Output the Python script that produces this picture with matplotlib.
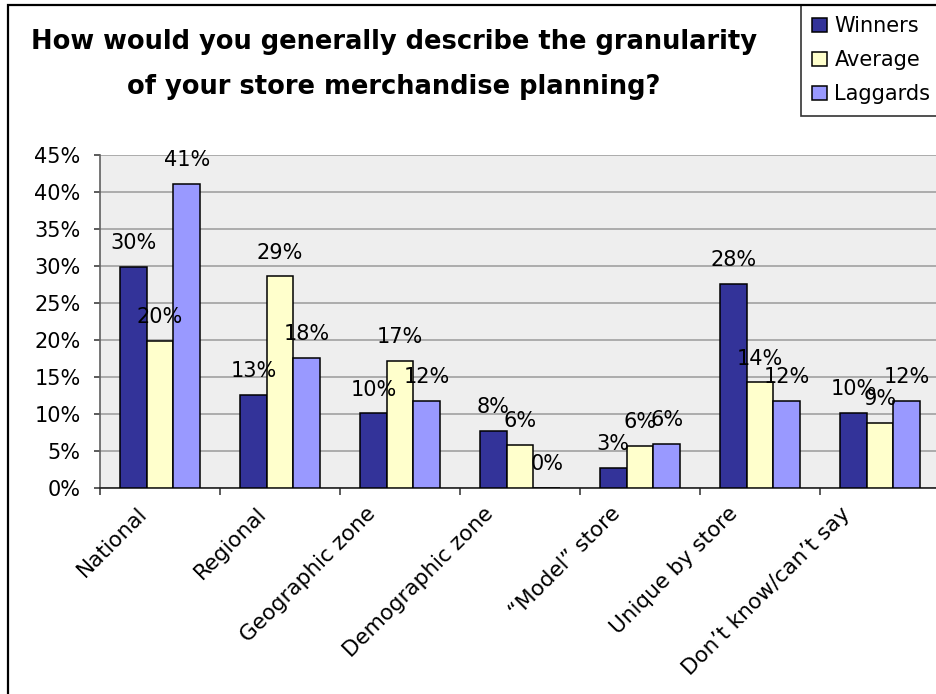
import matplotlib
matplotlib.use("Agg")
import matplotlib.pyplot as plt
import numpy as np
from matplotlib.patches import Rectangle
from matplotlib.ticker import FixedLocator, FuncFormatter

categories = ["National", "Regional", "Geographic zone", "Demographic zone",
              "\u201cModel\u201d store", "Unique by store", "Don\u2019t know/can\u2019t say"]
series_names = ["Winners", "Average", "Laggards"]
winners = [29.9, 12.6, 10.1, 7.7, 2.7, 27.6, 10.2]
average = [19.9, 28.6, 17.2, 5.8, 5.7, 14.3, 8.8]
laggards = [41.1, 17.6, 11.8, 0.0, 6.0, 11.8, 11.8]
colors = ["#333399", "#FFFFCC", "#9999FF"]
title = "How would you generally describe the granularity\nof your store merchandise planning?"

plt.rcParams['font.family'] = ['DejaVu Sans']

W, H = 936, 694
fig = plt.figure(figsize=(W / 100, H / 100), dpi=100)
fig.patch.set_facecolor("white")

ax = fig.add_axes([100 / W, 1 - 488 / H, 840 / W, (488 - 155) / H])
ax.set_facecolor("#EEEEEE")

n = len(categories)
x = np.arange(n)
bw = 0.2222
data = [winners, average, laggards]
for i, (vals, c, name) in enumerate(zip(data, colors, series_names)):
    pos = x + (i - 1) * bw
    ax.bar(pos, vals, width=bw, color=c, edgecolor="black", linewidth=1.1,
           label=name, zorder=3)
    for px, v in zip(pos, vals):
        ax.annotate(f"{round(v):d}%", (px, v), xytext=(0, 17), textcoords="offset points",
                    ha="center", va="center", fontsize=15, zorder=5)

ax.set_xlim(-0.5, n - 0.5)
ax.set_ylim(0, 45)
ax.yaxis.set_major_locator(FixedLocator(np.arange(0, 46, 5)))
ax.yaxis.set_major_formatter(FuncFormatter(lambda v, p: f"{int(v)}%"))
ax.grid(axis="y", color="#A0A0A0", linewidth=1.2, zorder=0)
ax.set_axisbelow(True)

# category tick marks at group boundaries; category names drawn as rotated annotations
ax.set_xticks(x)
ax.set_xticklabels([])
ax.tick_params(axis="x", which="major", length=0)
ax.set_xticks(np.arange(-0.5, n, 1), minor=True)
ax.tick_params(axis="x", which="minor", length=5, width=1.2, color="#404040")
ax.tick_params(axis="y", length=4.5, width=1.2, color="#404040", labelsize=15, pad=9.5)

pad_pt = 11
cat_texts = []
for xi, cat in zip(x, categories):
    t = ax.annotate(cat, xy=(xi, 0), xycoords=ax.get_xaxis_transform(),
                    xytext=(0, -pad_pt), textcoords="offset points",
                    rotation=45, rotation_mode="anchor", ha="right", va="top",
                    fontsize=15.5, annotation_clip=False)
    cat_texts.append(t)

for s in ["top", "right"]:
    ax.spines[s].set_visible(False)
ax.spines["left"].set_color("#606060")
ax.spines["left"].set_linewidth(1.2)
ax.spines["bottom"].set_color("#202020")
ax.spines["bottom"].set_linewidth(1.2)

fig.text(394 / W, 1 - 64.5 / H, title, ha="center", va="center", fontsize=18.5,
         fontweight="bold", linespacing=1.97)

# Outer chart border
fig.patches.append(Rectangle((8 / W, -0.1), 1.2, 1 - 5 / H + 0.1, transform=fig.transFigure,
                             fill=False, edgecolor="black", linewidth=1.6, zorder=10))

handles, labels = ax.get_legend_handles_labels()
leg = fig.legend(handles, labels, loc="upper left", bbox_to_anchor=(801 / W, 1 - 5 / H),
                 frameon=True, fancybox=False, edgecolor="black", fontsize=15,
                 handlelength=0.7, handleheight=0.7, handletextpad=0.35,
                 labelspacing=0.67, borderpad=0.55, borderaxespad=0)
leg.get_frame().set_linewidth(1.2)

# Shift rotated category labels left in proportion to their extent (as in the reference)
fig.canvas.draw()
renderer = fig.canvas.get_renderer()
for t in cat_texts:
    bb = t.get_window_extent(renderer)
    off_px = 0.17 * bb.width + 10
    t.xyann = (-off_px * 0.72, -pad_pt)

fig.savefig("out.png", dpi=100)
